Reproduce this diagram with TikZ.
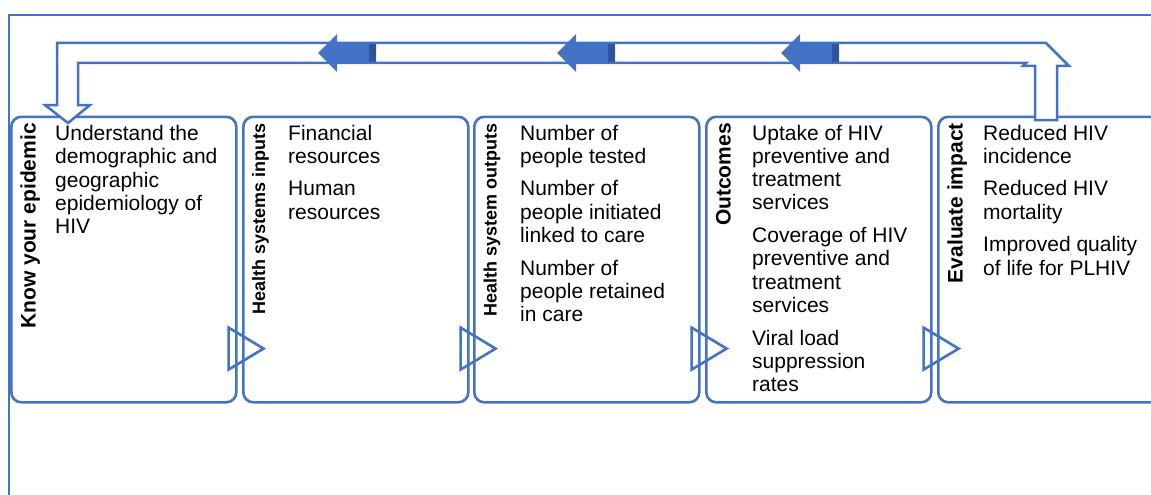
\documentclass[tikz,border=0pt]{standalone}
\usepackage{fontspec}
\setmainfont{Liberation Sans}
\usetikzlibrary{calc}
\definecolor{accent}{HTML}{4472C4}
\definecolor{accentdark}{HTML}{2F5597}
\begin{document}
\begin{tikzpicture}[x=1pt,y=-1pt,
  frame/.style={draw=accent, line width=2.7pt},
  stage/.style={draw=accent, line width=2.6pt, rounded corners=10pt,
    minimum width=225pt, minimum height=285.5pt, anchor=north west, inner sep=0pt},
  body/.style={anchor=base west, inner sep=0pt},
  heading/.style={anchor=base east, rotate=90, inner sep=0pt,
    font=\bfseries\fontsize{21}{24}\selectfont},
  smallheading/.style={heading, font=\bfseries\fontsize{18}{21}\selectfont},
  pointer/.style={draw=accent, line width=2.6pt, line join=miter},
  loop/.style={draw=accent, line width=2.5pt, fill=white, line join=miter},
  flowarrow/.pic={
    \fill[accent] (0,0) -- (19,-19) -- (19,-9.3) -- (58,-9.3) -- (58,9.3)
      -- (19,9.3) -- (19,19) -- cycle;
    \fill[accentdark] (50.5,-9.3) rectangle (58,9.3);
  }
]
\newcommand{\bodytext}[1]{\parbox[t]{180pt}{\fontsize{21}{23.3}\selectfont\raggedright #1}}
\clip (0,0) rectangle (1151,495);
\fill[white] (0,0) rectangle (1151,495);

% outer frame
\draw[frame] (9,496) -- (9,15) -- (1152,15);

% five stages
\node[stage] (b1) at (10,115.5) {};
\node[stage] (b2) at (242,115.5) {};
\node[stage] (b3) at (473,115.5) {};
\node[stage] (b4) at (705,115.5) {};
\node[stage] (b5) at (937,115.5) {};

% hollow pointers from each stage to the next
\foreach \s in {b1,b2,b3,b4}{
  \draw[pointer] ($(\s.south east)+(-9,-76)$) -- ($(\s.south east)+(26,-55)$)
    -- ($(\s.south east)+(-9,-34)$) -- cycle;
}

% feedback loop from impact back to the epidemic
\coordinate (loopfrom) at ($(b5.north west)+(109,0)$);
\coordinate (loopto) at ($(b1.north west)+(58,7.5)$);
\draw[loop] ($(loopto)+(-11,-80)$) -- ($(loopfrom)+(0,-72.5)$)
  -- ($(loopfrom)+(23,-49.5)$) -- ($(loopfrom)+(11,-49.5)$)
  -- ($(loopfrom)+(11,4.5)$) -- ($(loopfrom)+(-11,4.5)$)
  -- ($(loopfrom)+(-11,-49.5)$) -- ($(loopfrom)+(-23,-49.5)$)
  -- ($(loopfrom)+(-20,-52.5)$) -- ($(loopto)+(10,-60)$)
  -- ($(loopto)+(10,-18)$) -- ($(loopto)+(22,-18)$)
  -- (loopto) -- ($(loopto)+(-23,-18)$) -- ($(loopto)+(-11,-18)$) -- cycle;

% direction markers on the loop
\pic at (318,53) {flowarrow};
\pic at (557,53) {flowarrow};
\pic at (781,53) {flowarrow};

% stage headings
\node[heading] (h1) at (35.5,123) {Know your epidemic};
\node[smallheading] (h2) at (265,123) {Health systems inputs};
\node[smallheading] (h3) at (496.5,123) {Health system outputs};
\node[heading] (h4) at (730.5,123) {Outcomes};
\node[heading] (h5) at (962.5,123) {Evaluate impact};

% stage contents
\node[body] (t1) at (55,140.5) {\bodytext{Understand the\\demographic and\\geographic\\epidemiology of\\HIV}};
\node[body] (t2) at (288,140) {\bodytext{Financial\\resources\\[9.3pt]Human\\resources}};
\node[body] (t3) at (520,140) {\bodytext{Number of\\people tested\\[9.3pt]Number of\\people initiated\\linked to care\\[9.3pt]Number of\\people retained\\in care}};
\node[body] (t4) at (752,140) {\bodytext{Uptake of HIV\\preventive and\\treatment\\services\\[9.3pt]Coverage of HIV\\preventive and\\treatment\\services\\[9.3pt]Viral load\\suppression\\rates}};
\node[body] (t5) at (983,140) {\bodytext{Reduced HIV\\incidence\\[9.3pt]Reduced HIV\\mortality\\[9.3pt]Improved quality\\of life for PLHIV}};
\end{tikzpicture}
\end{document}
